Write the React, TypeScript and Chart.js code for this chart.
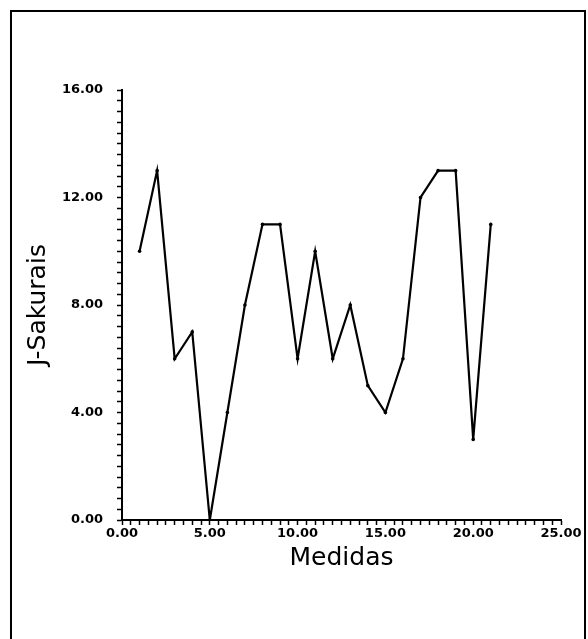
import React, { useEffect, useRef } from "react";
import { Chart, registerables } from "chart.js";

Chart.register(...registerables);

const medidas = [1, 2, 3, 4, 5, 6, 7, 8, 9, 10, 11, 12, 13, 14, 15, 16, 17, 18, 19, 20, 21];
const jSakurais = [10, 13, 6, 7, 0, 4, 8, 11, 11, 6, 10, 6, 8, 5, 4, 6, 12, 13, 13, 3, 11];
const xMajorStep = 5;
const yMajorStep = 4;

const FONT = "'DejaVu Sans', sans-serif";

export default function App() {
  const ref = useRef<HTMLCanvasElement | null>(null);

  useEffect(() => {
    if (!ref.current) return;
    const isMajor = (v: number, step: number) => Math.abs(v / step - Math.round(v / step)) < 1e-6;
    const chart = new Chart(ref.current, {
      type: "scatter",
      data: {
        datasets: [
          {
            data: medidas.map((x, i) => ({ x, y: jSakurais[i] })),
            showLine: true,
            borderColor: "#000",
            backgroundColor: "#000",
            borderWidth: 2.2,
            pointRadius: 1.8,
            pointBorderWidth: 0,
            tension: 0,
          },
        ],
      },
      options: {
        animation: false,
        responsive: false,
        maintainAspectRatio: false,
        layout: { padding: { left: 0, top: 90, right: 27, bottom: 0 } },
        plugins: { legend: { display: false }, tooltip: { enabled: false } },
        scales: {
          x: {
            type: "linear",
            min: 0,
            max: 25,
            afterFit: (s: any) => {
              s.height = 119;
            },
            border: { display: true, color: "#000", width: 2 },
            grid: {
              drawOnChartArea: false,
              drawTicks: true,
              tickLength: 5,
              tickWidth: 1.5,
              tickColor: "#000",
            },
            ticks: {
              stepSize: 0.5,
              autoSkip: false,
              maxRotation: 0,
              padding: 1,
              color: "#000",
              font: { family: FONT, size: 13, weight: "bold" },
              callback: (v: any) => (isMajor(Number(v), xMajorStep) ? Number(v).toFixed(2) : ""),
            },
            title: {
              display: true,
              text: "Medidas",
              color: "#000",
              font: { family: FONT, size: 25, weight: "normal" },
              padding: { top: 0, bottom: 66 },
            },
          },
          y: {
            type: "linear",
            min: 0,
            max: 16,
            afterFit: (s: any) => {
              s.width = 122;
            },
            border: { display: true, color: "#000", width: 2 },
            grid: {
              drawOnChartArea: false,
              drawTicks: true,
              tickLength: 5,
              tickWidth: 1.5,
              tickColor: "#000",
            },
            ticks: {
              stepSize: 0.4,
              autoSkip: false,
              padding: 14,
              color: "#000",
              font: { family: FONT, size: 13, weight: "bold" },
              callback: (v: any) => (isMajor(Number(v), yMajorStep) ? Number(v).toFixed(2) : ""),
            },
            title: {
              display: true,
              text: "J-Sakurais",
              color: "#000",
              font: { family: FONT, size: 25, weight: "normal" },
              padding: { top: 23, bottom: 0 },
            },
          },
        },
      },
    });
    return () => chart.destroy();
  }, []);

  return (
    <div style={{ position: "fixed", left: 0, top: 0, width: 588, height: 639, background: "#fff", overflow: "hidden" }}>
      <div
        style={{
          position: "absolute",
          left: 10,
          top: 10,
          width: 576,
          height: 700,
          border: "2px solid #000",
          boxSizing: "border-box",
        }}
      />
      <canvas ref={ref} width={588} height={639} style={{ position: "absolute", left: 0, top: 0 }} />
    </div>
  );
}
